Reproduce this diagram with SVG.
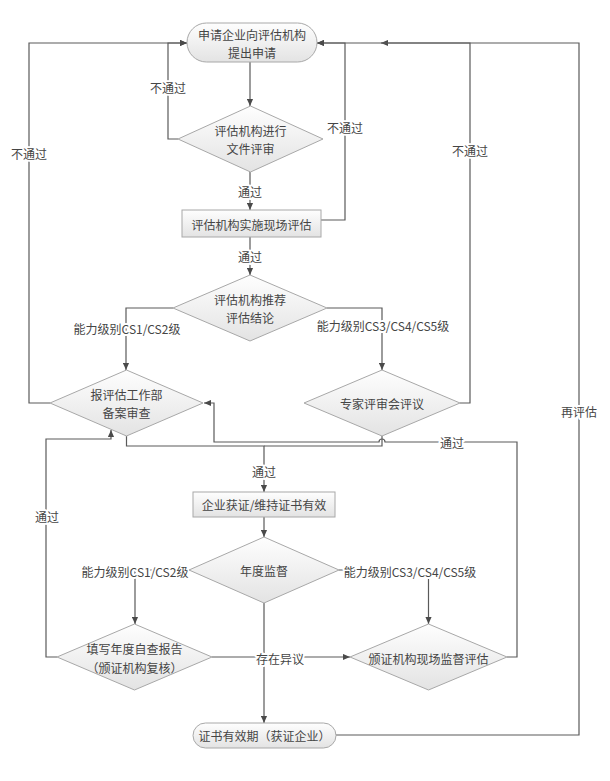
<svg xmlns="http://www.w3.org/2000/svg" width="610" height="781" viewBox="0 0 610 781">
<defs>
<linearGradient id="g" x1="0" y1="0" x2="0" y2="1">
<stop offset="0" stop-color="#fefefe"/>
<stop offset="1" stop-color="#e3e3e3"/>
</linearGradient>
<marker id="a" viewBox="0 0 8 8" refX="8" refY="4" markerWidth="7" markerHeight="7" markerUnits="userSpaceOnUse" orient="auto">
<path d="M0,0.5 L8,4 L0,7.5 z" fill="#4a4a4a"/>
</marker>
<style>
.n{fill:url(#g);stroke:#a8a8a8;stroke-width:1}
.t{font-family:"Noto Sans CJK SC","Liberation Sans",sans-serif;font-size:12px;fill:#454545;text-anchor:middle;dominant-baseline:central}
.l{font-family:"Noto Sans CJK SC","Liberation Sans",sans-serif;font-size:12px;fill:#454545;text-anchor:middle;dominant-baseline:central;stroke:#fff;stroke-width:4px;paint-order:stroke;stroke-linejoin:round}
.c{fill:none;stroke:#5a5a5a;stroke-width:1.2}
</style>
</defs>
<rect width="610" height="781" fill="#fff"/>

<g id="connectors">
<path class="c" d="M250,62 V106" marker-end="url(#a)"/>
<path class="c" d="M178,139 H168 V43 H187" marker-end="url(#a)"/>
<path class="c" d="M250,172 V210" marker-end="url(#a)"/>
<path class="c" d="M321,220 H345 V43 H317" marker-end="url(#a)"/>
<path class="c" d="M250,237 V275" marker-end="url(#a)"/>
<path class="c" d="M173,308 H126 V370" marker-end="url(#a)"/>
<path class="c" d="M327,308 H382 V370" marker-end="url(#a)"/>
<path class="c" d="M50,403 H29 V43 H187" marker-end="url(#a)"/>
<path class="c" d="M460,403 H470 V43 H381" marker-end="url(#a)"/>
<path class="c" d="M126.5,436 V446 H264 V492" marker-end="url(#a)"/>
<path class="c" d="M382,436 V446 H264"/>
<path class="c" d="M507,657 H517 V442 H385 A3,3 0 0 0 379,442 H214 V403 H204" marker-end="url(#a)"/>
<path class="c" d="M264,517 V537" marker-end="url(#a)"/>
<path class="c" d="M189,570 H135 V624" marker-end="url(#a)"/>
<path class="c" d="M339,570 H428.5 V624" marker-end="url(#a)"/>
<path class="c" d="M57,657 H46 V439 H111 V430" marker-end="url(#a)"/>
<path class="c" d="M212,657 H350" marker-end="url(#a)"/>
<path class="c" d="M264,603 V723" marker-end="url(#a)"/>
<path class="c" d="M336,735 H579 V43 H317" marker-end="url(#a)"/>

<text class="l" x="168" y="87">不通过</text>
<text class="l" x="345" y="127">不通过</text>
<text class="l" x="470" y="150">不通过</text>
<text class="l" x="29" y="153">不通过</text>
<text class="l" x="250" y="191">通过</text>
<text class="l" x="250" y="256">通过</text>
<text class="l" x="127" y="328">能力级别CS1/CS2级</text>
<text class="l" x="383" y="325">能力级别CS3/CS4/CS5级</text>
<text class="l" x="452" y="442">通过</text>
<text class="l" x="264" y="471">通过</text>
<text class="l" x="579" y="411">再评估</text>
<text class="l" x="47" y="516">通过</text>
<text class="l" x="135" y="571">能力级别CS1/CS2级</text>
<text class="l" x="410" y="571">能力级别CS3/CS4/CS5级</text>
<text class="l" x="280" y="658">存在异议</text>
</g>

<g id="n1">
<rect class="n" x="187" y="23" width="130" height="39" rx="19.5"/>
<text class="t" x="252" y="34">申请企业向评估机构</text>
<text class="t" x="252" y="52">提出申请</text>
</g>
<g id="n2">
<polygon class="n" points="250.5,106 323,139 250.5,172 178,139"/>
<text class="t" x="250.5" y="130">评估机构进行</text>
<text class="t" x="250.5" y="148">文件评审</text>
</g>
<g id="n3">
<rect class="n" x="182" y="210" width="139" height="27"/>
<text class="t" x="251.5" y="224">评估机构实施现场评估</text>
</g>
<g id="n4">
<polygon class="n" points="250,275 327,308 250,341 173,308"/>
<text class="t" x="250" y="299">评估机构推荐</text>
<text class="t" x="250" y="317">评估结论</text>
</g>
<g id="n5">
<polygon class="n" points="126.5,370 203,403 126.5,436 50,403"/>
<text class="t" x="126.5" y="394">报评估工作部</text>
<text class="t" x="126.5" y="412">备案审查</text>
</g>
<g id="n6">
<polygon class="n" points="382,370 460,403 382,436 304,403"/>
<text class="t" x="382" y="403">专家评审会评议</text>
</g>
<g id="n7">
<rect class="n" x="193" y="492" width="142" height="25"/>
<text class="t" x="264" y="504.5">企业获证/维持证书有效</text>
</g>
<g id="n8">
<polygon class="n" points="264,537 339,570 264,603 189,570"/>
<text class="t" x="264" y="570">年度监督</text>
</g>
<g id="n9">
<polygon class="n" points="134.5,624 212,657 134.5,690 57,657"/>
<text class="t" x="134.5" y="648">填写年度自查报告</text>
<text class="t" x="134.5" y="667">（颁证机构复核）</text>
</g>
<g id="n10">
<polygon class="n" points="428.5,624 507,657 428.5,690 350,657"/>
<text class="t" x="428.5" y="658">颁证机构现场监督评估</text>
</g>
<g id="n11">
<rect class="n" x="193" y="723" width="143" height="25" rx="12.5"/>
<text class="t" x="264.5" y="735.5">证书有效期（获证企业）</text>
</g>
</svg>
